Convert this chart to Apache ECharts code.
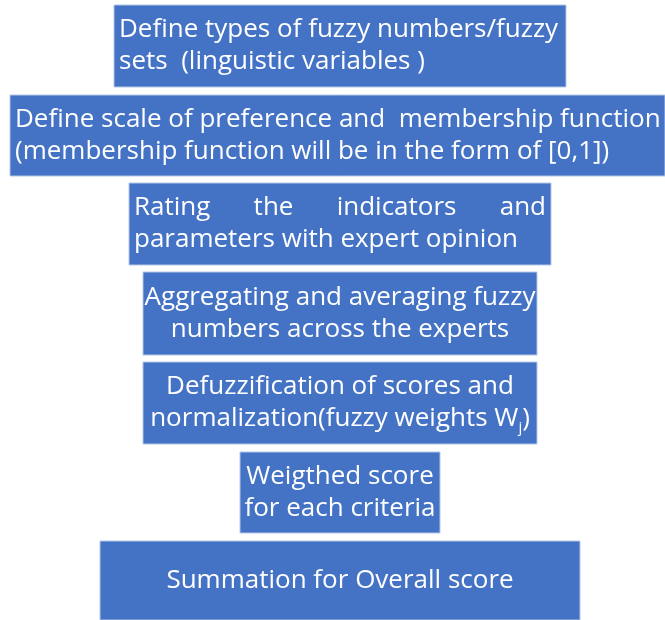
<!DOCTYPE html>
<html>
<head>
<meta charset="utf-8">
<script src="https://cdn.jsdelivr.net/npm/echarts@6/dist/echarts.min.js"></script>
<style>
  html, body { margin: 0; padding: 0; background: #ffffff; }
  #chart { width: 665px; height: 620px; }
</style>
</head>
<body>
<div id="chart"></div>
<script>
// steps of the fuzzy weighting procedure, top to bottom
const stepLabels = [
  'Define types of fuzzy numbers/fuzzy\nsets  (linguistic variables )',
  'Define scale of preference and  membership function\n(membership function will be in the form of [0,1])',
  'Rating the indicators and\nparameters with expert opinion',
  'Aggregating and averaging fuzzy\nnumbers across the experts',
  'Defuzzification of scores and\nnormalization(fuzzy weights W{sub|j})',
  'Weigthed score\nfor each criteria',
  'Summation for Overall score'
]
// box extents in picture units (x to the right, y downwards)
const boxLeft = [114, 10, 129, 143, 143, 240, 100]
const boxRight = [566, 665, 551, 537, 537, 440, 580]
const boxTop = [5, 95, 183, 272, 362, 452, 541]
const boxBottom = [87, 176, 265, 355, 444, 533, 620]
const textAlign = ['left', 'left', 'justify', 'center', 'center', 'center', 'center']

const FONT = '"Open Sans", "Noto Sans", sans-serif'
const FONT_SIZE = 26
const LINE_H = 32
const PAD = 5

const measureCtx = document.createElement('canvas').getContext('2d')
measureCtx.font = FONT_SIZE + 'px ' + FONT
function textWidth(s) {
  return measureCtx.measureText(s).width
}

const rich = {
  sub: { fontSize: 15, fontFamily: FONT, color: '#ffffff', padding: [18, 0, 0, 0], lineHeight: LINE_H }
}

function textEl(text, x, y, align) {
  return {
    type: 'text',
    style: {
      text: text,
      x: x,
      y: y,
      align: align,
      verticalAlign: 'middle',
      fill: '#ffffff',
      fontSize: FONT_SIZE,
      fontFamily: FONT,
      lineHeight: LINE_H,
      rich: rich
    }
  }
}

function renderItem(params, api) {
  const i = params.dataIndex
  const p0 = api.coord([api.value(0), api.value(2)])
  const p1 = api.coord([api.value(1), api.value(3)])
  const x0 = p0[0], y0 = p0[1], x1 = p1[0], y1 = p1[1]
  const cy = (y0 + y1) / 2
  const children = [{
    type: 'rect',
    shape: { x: x0, y: y0, width: x1 - x0, height: y1 - y0 },
    style: { fill: '#4472c4', stroke: '#b4c7e7', lineWidth: 1 }
  }]
  const label = stepLabels[i]
  const mode = textAlign[i]
  if (mode === 'justify') {
    const lines = label.split('\n')
    const top = cy - (lines.length - 1) * LINE_H / 2
    lines.forEach(function (line, k) {
      const ly = top + k * LINE_H
      const words = line.split(' ')
      if (k === lines.length - 1 || words.length < 2) {
        children.push(textEl(line, x0 + PAD, ly, 'left'))
        return
      }
      const total = words.reduce(function (s, w) { return s + textWidth(w) }, 0)
      const gap = (x1 - x0 - 2 * PAD - total) / (words.length - 1)
      let x = x0 + PAD
      words.forEach(function (w) {
        children.push(textEl(w, x, ly, 'left'))
        x += textWidth(w) + gap
      })
    })
  } else if (mode === 'left') {
    children.push(textEl(label, x0 + PAD, cy, 'left'))
  } else {
    children.push(textEl(label, (x0 + x1) / 2, cy, 'center'))
  }
  return { type: 'group', children: children }
}

const chart = echarts.init(document.getElementById('chart'))
chart.setOption({
  backgroundColor: '#ffffff',
  animation: false,
  grid: { left: 0, right: 0, top: 0, bottom: 0 },
  xAxis: { type: 'value', min: 0, max: 665, show: false },
  yAxis: { type: 'value', min: 0, max: 620, inverse: true, show: false },
  series: [{
    type: 'custom',
    renderItem: renderItem,
    clip: false,
    data: stepLabels.map(function (_, i) {
      return [boxLeft[i], boxRight[i], boxTop[i], boxBottom[i]]
    })
  }]
})
</script>
</body>
</html>
